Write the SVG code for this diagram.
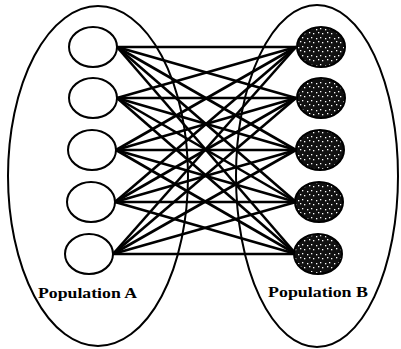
<svg xmlns="http://www.w3.org/2000/svg" width="401" height="349" viewBox="0 0 401 349">
<style>
.pop{fill:none;stroke:#000;stroke-width:2}
.na{fill:#fff;stroke:#000;stroke-width:2}
.nb{fill:url(#stip);stroke:#000;stroke-width:2}
#edges line{stroke:#000;stroke-width:2.6}
.lbl{font-family:"Liberation Serif",serif;font-weight:bold;font-size:15px;fill:#000}
</style>
<defs>
<pattern id="stip" width="9" height="9" patternUnits="userSpaceOnUse">
<rect width="9" height="9" fill="#111"/>
<rect x="1" y="2" width="1.3" height="1.3" fill="#fff"/>
<rect x="5" y="1" width="1.3" height="1.3" fill="#fff"/>
<rect x="3" y="5" width="1.3" height="1.3" fill="#fff"/>
<rect x="7" y="6" width="1.3" height="1.3" fill="#fff"/>
</pattern>
</defs>
<g id="popA"><ellipse class="pop" cx="98" cy="176" rx="90" ry="170"/><text class="lbl" x="38" y="298" textLength="99" lengthAdjust="spacingAndGlyphs">Population A</text></g>
<g id="popB"><ellipse class="pop" cx="317" cy="176" rx="81" ry="171"/><text class="lbl" x="268" y="297" textLength="100" lengthAdjust="spacingAndGlyphs">Population B</text></g>
<g id="edges">
<line x1="117" y1="47" x2="296" y2="47"/><line x1="117" y1="47" x2="296" y2="98"/><line x1="117" y1="47" x2="296" y2="150"/><line x1="117" y1="47" x2="296" y2="202"/><line x1="117" y1="47" x2="296" y2="254"/>
<line x1="117" y1="98" x2="296" y2="47"/><line x1="117" y1="98" x2="296" y2="98"/><line x1="117" y1="98" x2="296" y2="150"/><line x1="117" y1="98" x2="296" y2="202"/><line x1="117" y1="98" x2="296" y2="254"/>
<line x1="116" y1="150" x2="296" y2="47"/><line x1="116" y1="150" x2="296" y2="98"/><line x1="116" y1="150" x2="296" y2="150"/><line x1="116" y1="150" x2="296" y2="202"/><line x1="116" y1="150" x2="296" y2="254"/>
<line x1="115" y1="202" x2="296" y2="47"/><line x1="115" y1="202" x2="296" y2="98"/><line x1="115" y1="202" x2="296" y2="150"/><line x1="115" y1="202" x2="296" y2="202"/><line x1="115" y1="202" x2="296" y2="254"/>
<line x1="113" y1="254" x2="296" y2="47"/><line x1="113" y1="254" x2="296" y2="98"/><line x1="113" y1="254" x2="296" y2="150"/><line x1="113" y1="254" x2="296" y2="202"/><line x1="113" y1="254" x2="296" y2="254"/>
</g>
<g id="a1"><ellipse class="na" cx="93" cy="47" rx="24" ry="20"/></g>
<g id="a2"><ellipse class="na" cx="93" cy="98" rx="24" ry="20"/></g>
<g id="a3"><ellipse class="na" cx="92" cy="150" rx="24" ry="20"/></g>
<g id="a4"><ellipse class="na" cx="91" cy="202" rx="24" ry="20"/></g>
<g id="a5"><ellipse class="na" cx="89" cy="254" rx="24" ry="20"/></g>
<g id="b1"><ellipse class="nb" cx="321" cy="47" rx="24" ry="20"/></g>
<g id="b2"><ellipse class="nb" cx="321" cy="98" rx="24" ry="20"/></g>
<g id="b3"><ellipse class="nb" cx="320" cy="150" rx="24" ry="20"/></g>
<g id="b4"><ellipse class="nb" cx="319" cy="202" rx="24" ry="20"/></g>
<g id="b5"><ellipse class="nb" cx="318" cy="254" rx="24" ry="20"/></g>
</svg>
